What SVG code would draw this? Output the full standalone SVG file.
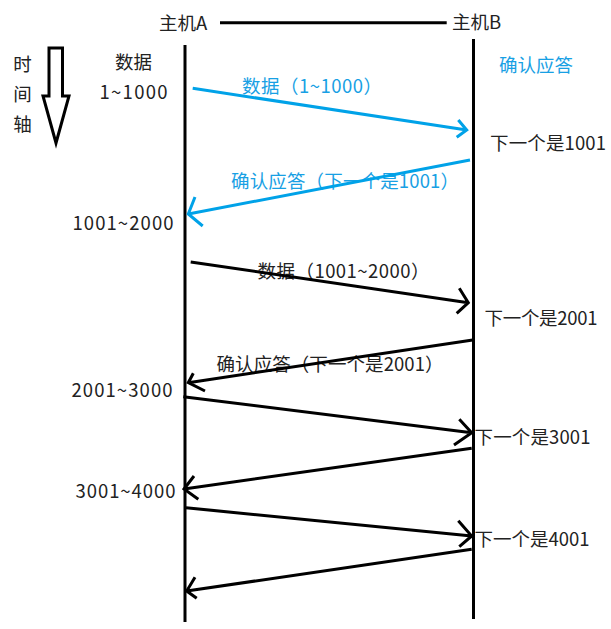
<svg xmlns="http://www.w3.org/2000/svg" width="611" height="629" viewBox="0 0 611 629">
<style>
text{font-family:"Noto Sans CJK SC","Microsoft YaHei","Noto Sans",sans-serif;font-size:18.5px;fill:#222}
.b{fill:#18a0e4}
.m{text-anchor:middle}
.e{text-anchor:end}
.ln{fill:none;stroke:#000;stroke-width:3;stroke-linejoin:miter}
.bl{stroke:#00a2e8}
</style>
<rect width="611" height="629" fill="#fff"/>
<g id="hostA">
<text x="159" y="29.5">主机A</text>
<line class="ln" x1="185" y1="45" x2="185" y2="622"/>
</g>
<g id="hostB">
<text x="452" y="28.5">主机B</text>
<line class="ln" x1="473.5" y1="39" x2="473.5" y2="619"/>
</g>
<g id="timeaxis">
<polygon class="ln" points="49,48 62.5,48 62.5,96 69,96 56,143 43,96 49,96"/>
<text class="m" x="22.5" y="71">时</text>
<text class="m" x="22.5" y="101">间</text>
<text class="m" x="22.5" y="131">轴</text>
</g>
<g id="labels">
<text class="m" x="133.5" y="69">数据</text>
<text class="m" x="133.5" y="99" textLength="68">1~1000</text>
<text class="b" x="499" y="71.5">确认应答</text>
<text class="b" x="242" y="93" textLength="140">数据（1~1000）</text>
<text x="490" y="150" textLength="116">下一个是1001</text>
<text class="b" x="231" y="188" textLength="228">确认应答（下一个是1001）</text>
<text class="e" x="173.5" y="229.5" textLength="101">1001~2000</text>
<text x="257.5" y="278" textLength="172">数据（1001~2000）</text>
<text x="484.5" y="325" textLength="113">下一个是2001</text>
<text x="216.5" y="371" textLength="227">确认应答（下一个是2001）</text>
<text class="e" x="172.5" y="397" textLength="101">2001~3000</text>
<text x="474.5" y="444" textLength="116">下一个是3001</text>
<text class="e" x="175.5" y="498" textLength="100">3001~4000</text>
<text x="474.5" y="546" textLength="115">下一个是4001</text>
</g>
<g id="connectors">
<line class="ln" x1="220" y1="22.7" x2="446.7" y2="22.7"/>
<path class="ln bl" d="M192.7,88.3 L466.7,130 M458.3,120 L466.7,130 L456.7,137.3"/>
<path class="ln bl" d="M470,160 L188.3,214 M195,197 L188.3,214 L202.7,226"/>
<path class="ln" d="M190.7,262 L468.3,302.7 M459.3,288.3 L468.3,302.7 L456.7,313.3"/>
<path class="ln" d="M472.7,340 L188.3,382.7 M193.3,373.3 L188.3,382.7 L205,391"/>
<path class="ln" d="M183.3,396.7 L471.7,432.7 M459.3,419.3 L471.7,432.7 L454,445"/>
<path class="ln" d="M471.7,448.3 L184,489 M194,476 L184,489 L198.3,499.3"/>
<path class="ln" d="M186,507.7 L471.7,536 M458.3,520.7 L471.7,536 L459.3,546.7"/>
<path class="ln" d="M471.7,549.3 L186.7,591 M195,577.3 L186.7,591 L196.7,598.3"/>
</g>
</svg>
